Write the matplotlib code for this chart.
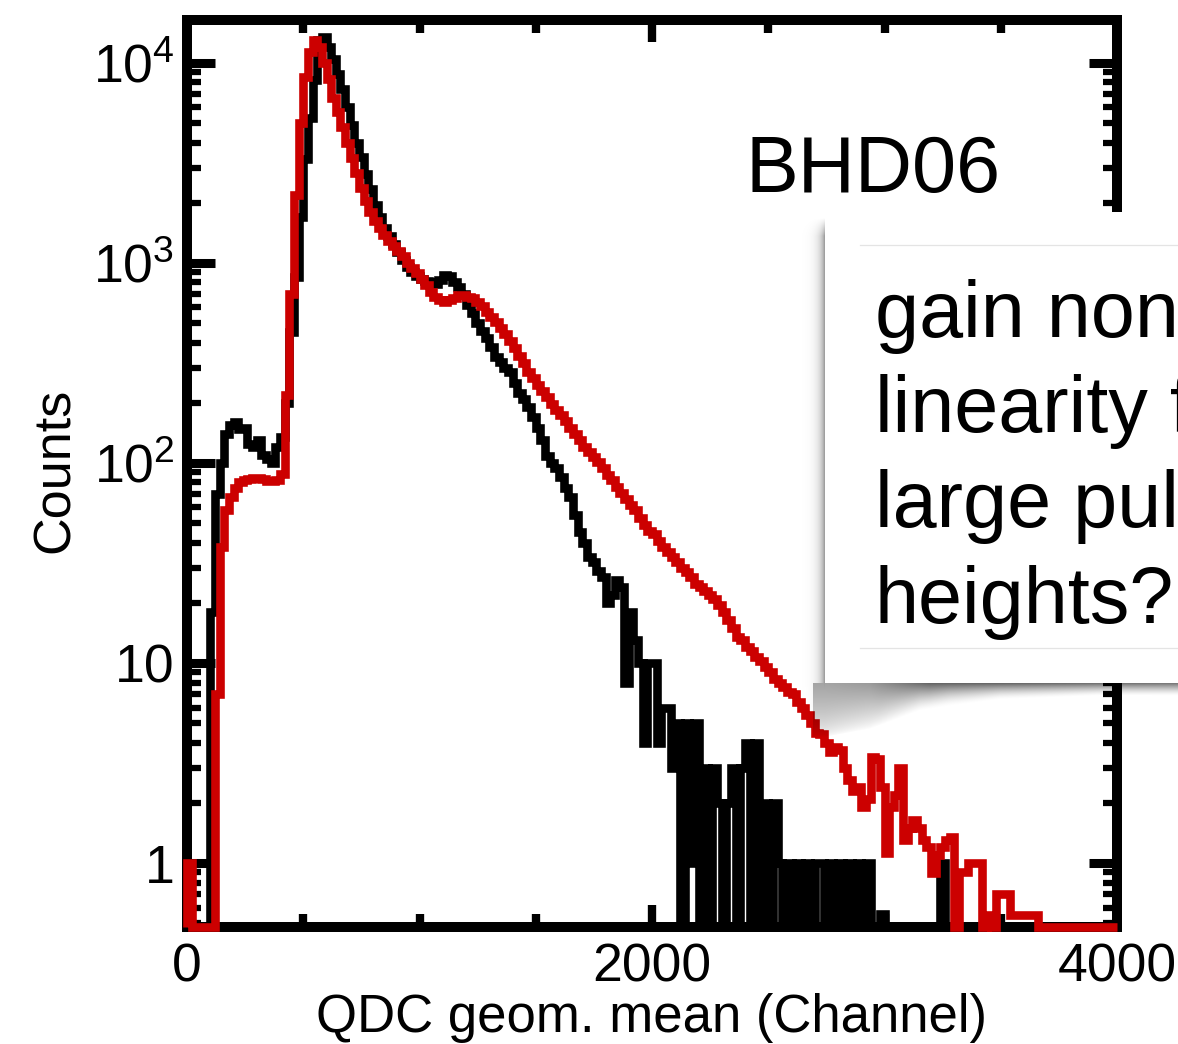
import numpy as np
import matplotlib
matplotlib.use("Agg")
import matplotlib.pyplot as plt
from matplotlib.ticker import FixedLocator, MultipleLocator, LogLocator, NullFormatter, FixedFormatter
from matplotlib.patches import Rectangle
from matplotlib.lines import Line2D

plt.rcParams['font.family'] = ['Liberation Sans', 'DejaVu Sans']
plt.rcParams['mathtext.fontset'] = 'custom'
plt.rcParams['mathtext.rm'] = 'Liberation Sans'
plt.rcParams['mathtext.it'] = 'Liberation Sans:italic'
plt.rcParams['mathtext.bf'] = 'Liberation Sans:bold'

# ---------------- data ----------------
channel_min = 0
channel_max = 4000
bin_width = 20

black_counts = [
    0, 0, 0, 0, 0, 18, 70, 100, 140, 155,
    160, 148, 150, 125, 120, 130, 110, 105, 100, 120,
    135, 200, 450, 850, 1700, 3300, 5300, 8200, 13000, 13500,
    12000, 10500, 8800, 7400, 6000, 4900, 4000, 3400, 2800, 2350,
    1950, 1700, 1500, 1360, 1240, 1130, 1040, 960, 900, 860,
    830, 810, 800, 790, 820, 870, 860, 800, 760, 700,
    620, 560, 500, 460, 420, 380, 340, 320, 300, 285,
    250, 225, 210, 190, 170, 150, 130, 108, 100, 94,
    85, 75, 68, 55, 45, 40, 34, 32, 29, 27,
    20, 22, 26, 24, 8, 18, 13, 10, 4, 10,
    10, 4, 6, 6, 3, 5, 0, 5, 1, 5,
    0, 3, 0, 3, 2, 0, 2, 3, 0, 3,
    4, 0, 4, 0, 2, 0, 2, 1, 0, 1,
    0, 1, 0, 1, 0, 1, 1, 0, 1, 0,
    1, 0, 1, 0, 1, 0, 1, 0, 0, 0.56,
    0, 0, 0, 0, 0, 0, 0, 0, 0, 0,
    0, 0, 1, 0, 0, 0, 0, 0, 0, 0,
    0, 0, 0, 0, 0, 0, 0, 0, 0, 0,
    0, 0, 0, 0, 0, 0, 0, 0, 0, 0,
    0, 0, 0, 0, 0, 0, 0, 0, 0, 0,
]

red_counts = [
    1, 0, 0, 0, 0, 0, 7, 38, 58, 68,
    75, 80, 82, 83, 84, 84, 83, 81, 81, 82,
    88, 220, 700, 2200, 5000, 8500, 11400, 13000, 12000, 10000,
    8300, 6700, 5700, 4800, 4000, 3350, 2820, 2380, 2050, 1800,
    1620, 1490, 1380, 1290, 1210, 1150, 1080, 1000, 940, 890,
    830, 780, 720, 680, 650, 640, 650, 670, 690, 690,
    680, 665, 640, 610, 570, 540, 505, 475, 440, 410,
    375, 345, 315, 287, 265, 245, 230, 213, 198, 185,
    174, 162, 150, 140, 130, 121, 113, 107, 101, 94,
    87, 82, 76, 71, 66, 62, 58, 53, 49, 46,
    44, 41, 38, 36, 34, 32, 30, 28.5, 27, 25,
    24, 23, 22, 21, 19.5, 18, 16.5, 15, 13.5, 13,
    12, 11.5, 10.7, 10.2, 9.6, 9.0, 8.3, 8.0, 7.6, 7.2,
    7.0, 6.4, 6.0, 5.5, 5.0, 4.5, 4.4, 4.0, 3.6, 3.8,
    3.7, 3.0, 2.6, 2.3, 2.4, 1.9, 2.1, 3.4, 3.3, 2.4,
    1.12, 1.9, 2.2, 3.0, 1.3, 1.5, 1.64, 1.5, 1.3, 1.2,
    0.89, 1.1, 1.2, 1.3, 1.35, 0, 0.9, 0.9, 1.0, 1.0,
    1.0, 0, 0.55, 0, 0.7, 0.7, 0.7, 0.55, 0.55, 0.55,
    0.55, 0.55, 0.55, 0, 0, 0, 0, 0, 0, 0,
    0, 0, 0, 0, 0, 0, 0, 0, 0, 0,
]

x_major_ticks = [0, 2000, 4000]
y_major_ticks = [1, 10, 100, 1000, 10000]
y_major_labels = ['1', '10', r'$\mathregular{10^{2}}$', r'$\mathregular{10^{3}}$', r'$\mathregular{10^{4}}$']
x_label = 'QDC geom. mean (Channel)'
y_label = 'Counts'
detector_name = 'BHD06'
# the callout runs off the right edge of the slide; only the visible part is kept
callout_lines = ['gain non', 'linearity f', 'large pul', 'heights?']

# ---------------- figure ----------------
W, H = 1178, 1044
fig = plt.figure(figsize=(W / 100, H / 100), dpi=100)
fig.patch.set_facecolor('white')

ax_l, ax_r, ax_t, ax_b = 187, 1117, 20, 927
ax = fig.add_axes([ax_l / W, 1 - ax_b / H, (ax_r - ax_l) / W, (ax_b - ax_t) / H])

ymin, ymax = 0.48, 16400
edges = np.arange(channel_min, channel_max + bin_width, bin_width)
black = np.asarray(black_counts, dtype=float)
red = np.asarray(red_counts, dtype=float)
black_plot = np.where(black > 0, black, ymin)
red_plot = np.where(red > 0, red, ymin)

ax.set_yscale('log')
ax.stairs(black_plot, edges, baseline=ymin, color='black', linewidth=6.2,
          clip_on=False, zorder=3, joinstyle='miter')
ax.stairs(red_plot, edges, baseline=ymin, color='#cc0000', linewidth=6.2,
          clip_on=False, zorder=4, joinstyle='miter')

ax.set_xlim(channel_min, channel_max)
ax.set_ylim(ymin, ymax)

for s in ax.spines.values():
    s.set_linewidth(7.2)
    s.set_zorder(2.5)

ax.xaxis.set_major_locator(FixedLocator(x_major_ticks))
ax.xaxis.set_minor_locator(MultipleLocator(500))
ax.yaxis.set_major_locator(FixedLocator(y_major_ticks))
ax.yaxis.set_major_formatter(FixedFormatter(y_major_labels))
ax.yaxis.set_minor_locator(LogLocator(base=10, subs=np.arange(2, 10), numticks=30))
ax.yaxis.set_minor_formatter(NullFormatter())

ax.tick_params(which='both', direction='in', top=True, right=True, labelsize=38.5)
ax.tick_params(axis='y', which='major', length=20, width=6.5, pad=9)
ax.tick_params(axis='y', which='minor', length=10, width=4.5)
ax.tick_params(axis='x', which='major', length=16, width=6, pad=11)
ax.tick_params(axis='x', which='minor', length=9.5, width=6)

fig.text(652 / W, 1 - 1032 / H, x_label, fontsize=38, ha='center', va='baseline')
fig.text(55 / W, 1 - 470 / H, y_label, fontsize=37.5, ha='center', va='center', rotation=90)

fig.text(745 / W, 1 - 192 / H, detector_name, fontsize=57, ha='left', va='baseline')

# ---------------- callout with shadow ----------------
box_l, box_t, box_b = 825, 212, 683
sx0, sx1, sy0, sy1 = 800, W, 200, 760
xs = np.arange(sx0, sx1) + 0.5
ys = np.arange(sy0, sy1) + 0.5
X, Y = np.meshgrid(xs, ys)

dl = np.clip(box_l - X, 0, None)
a_left = 0.42 * np.exp(-dl / 5.0)
a_left *= np.clip((Y - (box_t + 6)) / 18.0, 0, 1)
a_left *= np.clip(1 - (Y - box_b) / 55.0, 0, 1)
a_left[X >= box_l] = 0

h = np.interp(X, [800, 825, 870, 920, 1000, 1100, 1178], [54, 54, 46, 28, 17, 13, 13])
A = np.interp(X, [800, 825, 870, 930, 1000, 1178], [0.36, 0.36, 0.40, 0.62, 0.62, 0.55])
p = np.interp(X, [800, 825, 880, 950, 1178], [0.6, 0.6, 0.9, 1.7, 1.5])
t = (Y - box_b) / h
a_bot = np.where((Y >= box_b) & (t < 1) & (X >= 813), A * np.clip(1 - t, 0, 1) ** p, 0)

alpha = np.maximum(a_left, a_bot)
alpha[(X >= box_l) & (Y < box_b)] = 0
rgba = np.zeros((len(ys), len(xs), 4))
rgba[..., 3] = alpha
fig.figimage(rgba, xo=sx0, yo=H - sy1, origin='upper', zorder=4)

fig.add_artist(Rectangle((box_l / W, 1 - box_b / H), (W + 30 - box_l) / W, (box_b - box_t) / H,
                         transform=fig.transFigure, facecolor='white', edgecolor='none', zorder=5))
for yy in (245, 648):
    fig.add_artist(Line2D([860 / W, 1.0], [1 - yy / H, 1 - yy / H], transform=fig.transFigure,
                          color='#e4e4e4', linewidth=0.9, zorder=6))

for line, base in zip(callout_lines, [337, 432, 527, 623]):
    fig.text(875 / W, 1 - base / H, line, fontsize=57, ha='left', va='baseline', zorder=7)

fig.savefig('out.png', dpi=100)
